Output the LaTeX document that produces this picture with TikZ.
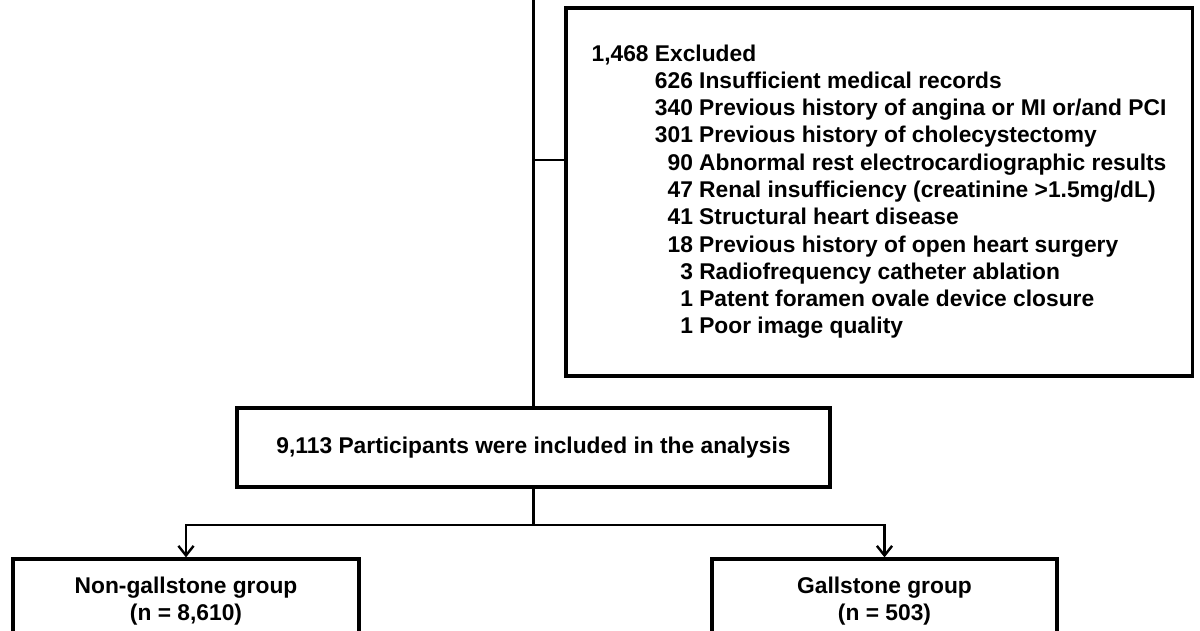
\documentclass[tikz,border=0pt]{standalone}
\usepackage{fontspec}
\setmainfont{Liberation Sans}
\usetikzlibrary{arrows.meta}

\begin{document}
\begin{tikzpicture}[
            x=0.025cm, y=-0.025cm, % 一个单位约为参考图的一个像素
            box/.style={
                rectangle, % 矩形节点
                draw, % 绘制边框
                line width=0.08cm, % 边框粗细
                inner sep=0, % 内边距为 0
                align=center, % 文字居中
                font=\fontsize{16.2}{19.4}\selectfont\bfseries % 字体大小
            },
            line/.style={line width=0.06cm}, % 连接线
            arrow/.style={line, -{Straight Barb[length=2.4mm, width=3.8mm]}} % 带箭头的连接线
        ]
        \useasboundingbox (0,0) rectangle (1200,630); % 固定画布大小

        % 排除框
        \node[box, minimum width=15.65cm, minimum height=9.2cm] (excluded) at (879,192) {%
            \begin{tabular}{@{}l@{\ }r@{\ }l@{}}
                1,468 & \multicolumn{2}{@{}l@{}}{Excluded} \\
                & 626 & Insufficient medical records \\
                & 340 & Previous history of angina or MI or/and PCI \\
                & 301 & Previous history of cholecystectomy \\
                & 90 & Abnormal rest electrocardiographic results \\
                & 47 & Renal insufficiency (creatinine >1.5mg/dL) \\
                & 41 & Structural heart disease \\
                & 18 & Previous history of open heart surgery \\
                & 3 & Radiofrequency catheter ablation \\
                & 1 & Patent foramen ovale device closure \\
                & 1 & Poor image quality
            \end{tabular}};

        % 纳入分析的参与者
        \node[box, minimum width=14.825cm, minimum height=1.975cm] (included) at (533.5,447.5)
            {9,113 Participants were included in the analysis};

        % 两个分组
        \node[box, minimum width=8.65cm, minimum height=2.1cm] (nongall) at (186,601)
            {Non-gallstone group\\(n = 8,610)};
        \node[box, minimum width=8.625cm, minimum height=2.1cm] (gall) at (884.5,601)
            {Gallstone group\\(n = 503)};

        % 连接线
        \coordinate (top) at (533.5,0); % 上方来线
        \coordinate (split) at (533.5,160); % 排除分支点
        \coordinate (fork) at (533.5,525); % 分组分叉点
        \draw[line] (top) -- (included.north);
        \draw[line] (split) -- (split -| excluded.west);
        \draw[line] (included.south) -- (fork);
        \draw[arrow] (fork) -| (nongall.north);
        \draw[arrow] (fork) -| (gall.north);
\end{tikzpicture}
\end{document}
